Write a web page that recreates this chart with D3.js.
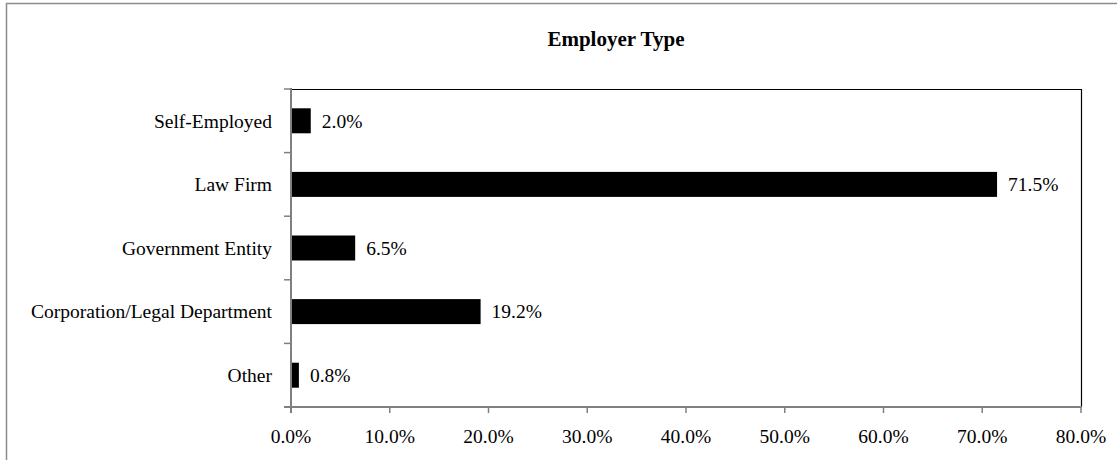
<!DOCTYPE html>
<html lang="en">
<head>
<meta charset="UTF-8">
<title>Employer Type</title>
<script src="https://d3js.org/d3.v7.min.js"></script>
<style>
    body { margin: 0; background: #fff; }
    svg { display: block; }
    text { font-family: "Liberation Serif", "Times New Roman", serif; fill: #000; }
</style>
</head>
<body>
<svg width="1117" height="460"></svg>
<script>
    const categories = ["Self-Employed", "Law Firm", "Government Entity", "Corporation/Legal Department", "Other"];
    const shares = [2.0, 71.5, 6.5, 19.2, 0.8];
    const xTicks = [0, 10, 20, 30, 40, 50, 60, 70, 80];
    const title = "Employer Type";

    const svg = d3.select("svg");
    const plotL = 291, plotR = 1081, plotT = 89, plotB = 407;

    // outer chart frame (runs off the image at right and bottom)
    svg.append("path")
        .attr("d", "M6.5,470V3.5H1130")
        .attr("fill", "none")
        .attr("stroke", "#8c8c8c")
        .attr("stroke-width", 1.5);

    svg.append("text")
        .attr("x", 616).attr("y", 46)
        .attr("text-anchor", "middle")
        .attr("font-weight", "bold")
        .attr("font-size", "21px")
        .text(title);

    const x = d3.scaleLinear().domain([0, 80]).range([plotL, plotR]);
    const y = d3.scaleBand().domain(categories).range([plotT, plotB])
        .paddingInner(0.607).paddingOuter(0.3035);
    const step = y.step();

    // plot frame: top and right black
    svg.append("path")
        .attr("d", `M${plotL},${plotT + 0.5}H${plotR + 0.5}V${plotB}`)
        .attr("fill", "none")
        .attr("stroke", "#000")
        .attr("stroke-width", 1.2);

    svg.append("g").selectAll("rect")
        .data(shares)
        .join("rect")
        .attr("x", x(0))
        .attr("y", (d, i) => y(categories[i]))
        .attr("width", d => x(d) - x(0))
        .attr("height", y.bandwidth())
        .attr("fill", "#000");

    svg.append("g").selectAll("text")
        .data(shares)
        .join("text")
        .attr("x", d => x(d) + 11)
        .attr("y", (d, i) => y(categories[i]) + y.bandwidth() / 2)
        .attr("dy", "0.35em")
        .attr("font-size", "19.5px")
        .text(d => d.toFixed(1) + "%");

    // y axis
    const ya = svg.append("g");
    ya.append("line")
        .attr("x1", plotL).attr("x2", plotL)
        .attr("y1", plotT - 1).attr("y2", plotB + 6)
        .attr("stroke", "#808080").attr("stroke-width", 2);
    ya.selectAll(".tk")
        .data(d3.range(categories.length + 1))
        .join("line")
        .attr("x1", plotL - 7).attr("x2", plotL)
        .attr("y1", i => plotT + i * step).attr("y2", i => plotT + i * step)
        .attr("stroke", "#808080").attr("stroke-width", 1.5);
    ya.selectAll("text")
        .data(categories)
        .join("text")
        .attr("x", plotL - 19)
        .attr("y", d => y(d) + y.bandwidth() / 2)
        .attr("dy", "0.35em")
        .attr("text-anchor", "end")
        .attr("font-size", "19.5px")
        .text(d => d);

    // x axis
    const xa = svg.append("g");
    xa.append("line")
        .attr("x1", plotL - 7).attr("x2", plotR + 1)
        .attr("y1", plotB).attr("y2", plotB)
        .attr("stroke", "#808080").attr("stroke-width", 2);
    xa.selectAll(".tk")
        .data(xTicks)
        .join("line")
        .attr("x1", d => x(d)).attr("x2", d => x(d))
        .attr("y1", plotB).attr("y2", plotB + 6)
        .attr("stroke", "#808080").attr("stroke-width", 1.5);
    xa.selectAll("text")
        .data(xTicks)
        .join("text")
        .attr("x", d => x(d))
        .attr("y", 443)
        .attr("text-anchor", "middle")
        .attr("font-size", "19.5px")
        .text(d => d.toFixed(1) + "%");
</script>
</body>
</html>
